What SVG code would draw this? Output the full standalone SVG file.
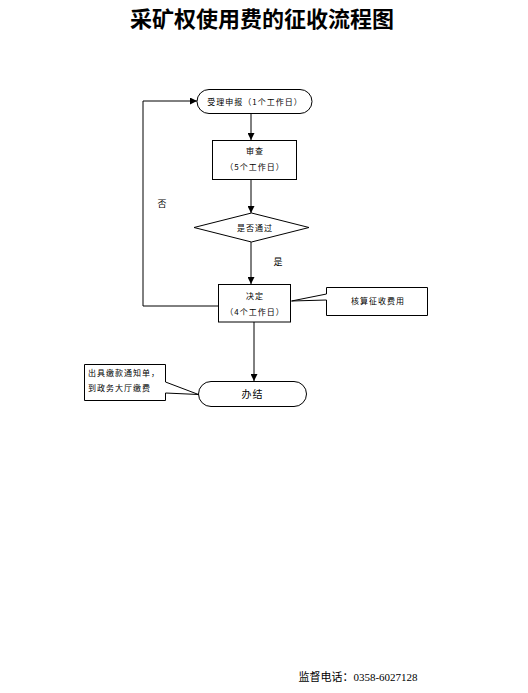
<svg xmlns="http://www.w3.org/2000/svg" width="528" height="693" viewBox="0 0 528 693">
<defs>
<marker id="arr" viewBox="0 0 10 10" refX="10" refY="5" markerWidth="7" markerHeight="7" markerUnits="userSpaceOnUse" orient="auto"><path d="M0,0 L10,5 L0,10 z" fill="#000"/></marker>
<style>
.s{fill:#fff;stroke:#000;stroke-width:1}
.l{fill:none;stroke:#000;stroke-width:1}
.t{font-family:"Noto Sans CJK SC","Noto Sans CJK SC",sans-serif;font-size:8px;letter-spacing:1px;fill:#000;text-anchor:middle}
.lbl{font-family:"Noto Sans CJK SC",sans-serif;font-size:9px;fill:#000;text-anchor:middle}
</style>
</defs>
<rect width="528" height="693" fill="#fff"/>
<text x="262" y="27" font-family="'Noto Sans CJK SC',serif" font-weight="bold" font-size="22" text-anchor="middle">采矿权使用费的征收流程图</text>
<g id="connectors">
<path class="l" d="M251,114 V140" marker-end="url(#arr)"/>
<path class="l" d="M251,180 V213" marker-end="url(#arr)"/>
<path class="l" d="M251,242 V284" marker-end="url(#arr)"/>
<path class="l" d="M218,306 H143 V101 H197" marker-end="url(#arr)"/>
<path class="l" d="M254,322 V381" marker-end="url(#arr)"/>
<text class="lbl" x="278" y="265">是</text>
<text class="lbl" x="162" y="207">否</text>
</g>
<g id="n1">
<rect class="s" x="197" y="89.5" width="115" height="24" rx="12" ry="12"/>
<text class="t" x="255" y="104.5">受理申报（1个工作日）</text>
</g>
<g id="n2">
<rect class="s" x="212.5" y="140.5" width="84" height="39"/>
<text class="t" x="255" y="154">审查</text>
<text class="t" x="255" y="170">（5个工作日）</text>
</g>
<g id="n3">
<polygon class="s" points="194,227.5 251.5,213 309,227.5 251.5,242"/>
<text class="t" x="255" y="231">是否通过</text>
</g>
<g id="n4">
<rect class="s" x="218.5" y="284.5" width="72" height="37.5"/>
<text class="t" x="255" y="299">决定</text>
<text class="t" x="255" y="315">（4个工作日）</text>
</g>
<g id="n5">
<polygon class="s" points="326.5,287.5 427.5,287.5 427.5,315.5 326.5,315.5 326.5,300 291.5,301 326.5,294"/>
<text class="t" x="378" y="304">核算征收费用</text>
</g>
<g id="n6">
<rect class="s" x="198.5" y="381.5" width="108" height="25" rx="12.5" ry="12.5"/>
<text x="252.5" y="398" font-family="'Noto Sans CJK SC',sans-serif" font-size="10" letter-spacing="1" text-anchor="middle">办结</text>
</g>
<g id="n7">
<polygon class="s" points="84.5,364.5 165.5,364.5 165.5,382 198.5,394.5 165.5,393 165.5,400.5 84.5,400.5"/>
<text class="t" x="88" y="376" style="text-anchor:start">出具缴款通知单，</text>
<text class="t" x="88" y="391" style="text-anchor:start">到政务大厅缴费</text>
</g>
<text x="358" y="681" font-family="'Liberation Serif','Noto Sans CJK SC',serif" font-size="11" text-anchor="middle">监督电话：0358-6027128</text>
</svg>
